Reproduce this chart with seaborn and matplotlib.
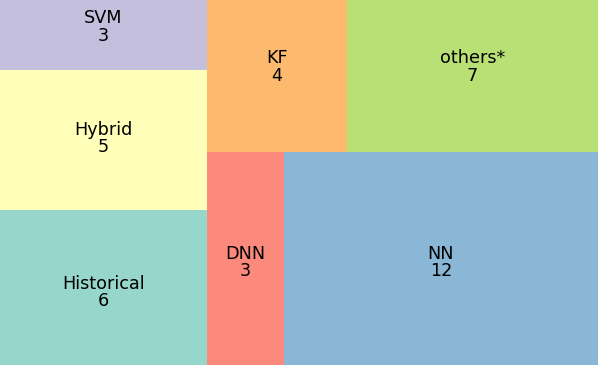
import matplotlib
matplotlib.use("Agg")
import matplotlib.pyplot as plt
import seaborn as sns

# ---- data ----
labels = ["Historical", "Hybrid", "SVM", "DNN", "NN", "KF", "others*"]
counts = [6, 5, 3, 3, 12, 4, 7]
# relative tile areas as drawn in the reference
areas = [5.9, 5.3, 2.65, 3.0, 12.3, 3.9, 7.0]

# label nudges (pixels, positive = down) to match the reference placement
label_nudge_px = [5, -1.5, -8, 4, 4, -9, -9]


# ---- squarified treemap layout ----
def normalize(sizes, dx, dy):
    total = sum(sizes)
    return [s * dx * dy / total for s in sizes]


def layoutrow(sizes, x, y, dx, dy):
    width = sum(sizes) / dy
    rects = []
    for s in sizes:
        rects.append((x, y, width, s / width))
        y += s / width
    return rects


def layoutcol(sizes, x, y, dx, dy):
    height = sum(sizes) / dx
    rects = []
    for s in sizes:
        rects.append((x, y, s / height, height))
        x += s / height
    return rects


def layout(sizes, x, y, dx, dy):
    return layoutrow(sizes, x, y, dx, dy) if dx >= dy else layoutcol(sizes, x, y, dx, dy)


def leftover(sizes, x, y, dx, dy):
    covered = sum(sizes)
    if dx >= dy:
        w = covered / dy
        return x + w, y, dx - w, dy
    h = covered / dx
    return x, y + h, dx, dy - h


def worst(sizes, x, y, dx, dy):
    return max(max(w / h, h / w) for (_, _, w, h) in layout(sizes, x, y, dx, dy))


def squarify(sizes, x, y, dx, dy):
    if not sizes:
        return []
    if len(sizes) == 1:
        return layout(sizes, x, y, dx, dy)
    i = 1
    while i < len(sizes) and worst(sizes[:i], x, y, dx, dy) >= worst(sizes[:i + 1], x, y, dx, dy):
        i += 1
    cur, rem = sizes[:i], sizes[i:]
    lx, ly, ldx, ldy = leftover(cur, x, y, dx, dy)
    return layout(cur, x, y, dx, dy) + squarify(rem, lx, ly, ldx, ldy)


W, H = 100.0, 100.0
rects = squarify(normalize(areas, W, H), 0, 0, W, H)

colors = sns.color_palette("Set3", len(labels))

fig = plt.figure(figsize=(5.98, 3.65), dpi=100)
ax = fig.add_axes([0, 0, 1, 1])
for (x, y, dx, dy), lab, c, col, nud in zip(rects, labels, counts, colors, label_nudge_px):
    ax.bar(x, dy, width=dx, bottom=y, align="edge", color=col, alpha=0.92, linewidth=0)
    ax.annotate(f"{lab}\n{c}", xy=(x + dx / 2, y + dy / 2),
                xytext=(0, -nud * 0.72), textcoords="offset points",
                ha="center", va="center", fontsize=12.7, color="black",
                family="DejaVu Sans", linespacing=0.95)
ax.set_xlim(0, W)
ax.set_ylim(0, H)
ax.axis("off")
fig.savefig("out.png", dpi=100)
